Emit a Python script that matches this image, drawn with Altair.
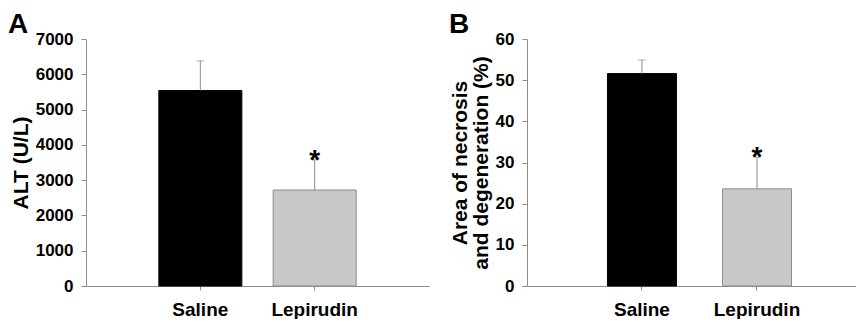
import altair as alt
import pandas as pd

groups = ["Saline", "Lepirudin"]
alt_mean = [5540, 2720]
alt_sem = [840, 860]
necrosis_mean = [51.6, 23.6]
necrosis_sem = [3.3, 7.7]
significance = ["", "*"]
bar_fill = ["#000000", "#c8c8c8"]
bar_stroke = ["#000000", "#8c8c8c"]

FONT = "Liberation Sans"
GREY = "#8c8c8c"


def panel(letter, means, sems, ymax, ystep, title, width, p_inner, p_outer, align):
    df = pd.DataFrame({
        "group": groups,
        "mean": means,
        "top": [m + s for m, s in zip(means, sems)],
        "sig": significance,
        "fill": bar_fill,
        "stroke": bar_stroke,
    })
    xscale = alt.Scale(domain=groups, paddingInner=p_inner, paddingOuter=p_outer, align=align)
    yscale = alt.Scale(domain=[0, ymax], nice=False, zero=True)
    xaxis = alt.Axis(title=None, labelAngle=0, labelFontSize=19, tickSize=4, labelPadding=10)
    yaxis = alt.Axis(values=list(range(0, ymax + 1, ystep)), format="d", title=title,
                     grid=False, labelFontSize=17, tickSize=5, labelPadding=8,
                     labelOverlap=False,
                     titleFontSize=21, titlePadding=4, titleLineHeight=21)
    x = alt.X("group:N", scale=xscale, sort=groups, axis=xaxis)
    y_mean = alt.Y("mean:Q", scale=yscale, axis=yaxis)
    y_top = alt.Y("top:Q", scale=yscale, axis=yaxis)
    base = alt.Chart(df)
    bars = base.mark_bar(strokeWidth=1).encode(
        x=x, y=y_mean,
        fill=alt.Fill("fill:N", scale=None),
        stroke=alt.Stroke("stroke:N", scale=None),
    )
    err = base.mark_rule(color=GREY, strokeWidth=1).encode(x=x, y=y_mean, y2="top:Q")
    cap = base.mark_tick(color=GREY, thickness=1, size=8).encode(x=x, y=y_top)
    star = base.mark_text(font=FONT, fontWeight="bold", fontSize=28, baseline="alphabetic",
                          dy=9, color="#000000").encode(x=x, y=y_top, text="sig:N")
    lab = alt.Chart(pd.DataFrame({"t": [letter]})).mark_text(
        font=FONT, fontWeight="bold", fontSize=28, align="left", baseline="alphabetic",
        color="#000000"
    ).encode(x=alt.value(-78), y=alt.value(-6), text="t:N")
    return alt.layer(bars, err, cap, star, lab).properties(width=width, height=247)


a = panel("A", alt_mean, alt_sem, 7000, 1000, "ALT (U/L)", 343, 0.274, 0.637, 0.5)
b = panel("B", necrosis_mean, necrosis_sem, 60, 10,
          ["Area of necrosis", "and degeneration (%)"], 329, 0.4, 0.630, 0.555)

chart = alt.hconcat(a, b, spacing=20).properties(
    padding={"left": 0, "top": 3, "right": 0, "bottom": 0}
).configure_view(stroke=None).configure_axis(
    domainColor=GREY, tickColor=GREY, labelColor="#000000", titleColor="#000000",
    labelFont=FONT, titleFont=FONT, labelFontWeight="bold", titleFontWeight="bold",
    titleFontSize=21, domainWidth=1, tickWidth=1
).configure_axisY(labelOverlap=False)

chart.save("out.html", embed_options={"renderer": "svg", "actions": False})
